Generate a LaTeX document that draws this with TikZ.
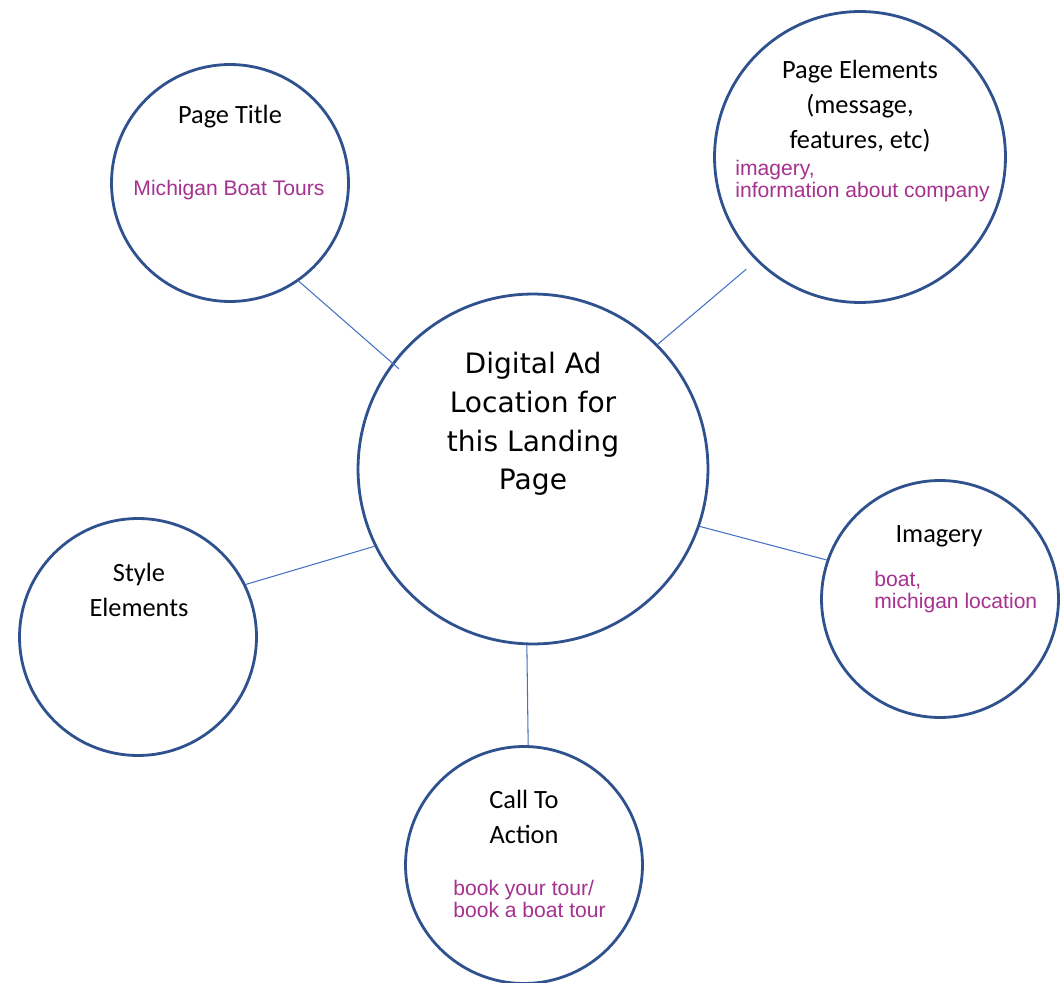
\documentclass[tikz,border=0pt]{standalone}
\usepackage{fontspec}
\setmainfont{Carlito}
\newfontfamily\adfont{DejaVu Sans}
\newfontfamily\notefont{Liberation Sans}
\definecolor{ringblue}{RGB}{47,82,143}
\definecolor{lineblue}{RGB}{68,114,196}
\definecolor{notepink}{RGB}{166,49,143}

\begin{document}
\begin{tikzpicture}[x=0.02cm,y=-0.02cm]
    \useasboundingbox (0,0) rectangle (1062,983);
    \begin{scope}[every node/.style={circle,draw=ringblue,line width=1.6pt,fill=white,minimum size=4.74cm}]
      \node[minimum size=7.0cm] (ad) at (533,469) {};
      \node (title) at (230,183) {};
      \node[minimum size=5.82cm] (elements) at (860,157) {};
      \node (imagery) at (940,599) {};
      \node (style) at (138,637) {};
      \node (action) at (524,865) {};
    \end{scope}

    \begin{scope}[every edge/.style={draw=lineblue,line width=0.6pt}]
      \path (title.-55) edge[shorten >=-0.18cm] (ad.143);
      \path (elements.225) edge[shorten <=0.26cm] (ad.45);
      \path (imagery.161) edge (ad.-19);
      \path (style.26) edge (ad.-154);
      \path (action.88) edge (ad.-92);
    \end{scope}

    \begin{scope}[every node/.style={align=center,font=\fontsize{15}{20}\selectfont}]
      \node[font=\adfont\fontsize{16}{22}\selectfont] (ad-text) at (533,424) {Digital Ad\\Location for\\this Landing\\Page};
      \node (title-text) at (230,117) {Page Title};
      \node (elements-text) at (860,106) {Page Elements\\(message,\\features, etc)};
      \node (imagery-text) at (939,536) {Imagery};
      \node (style-text) at (139,590) {Style\\Elements};
      \node (action-text) at (524,817) {Call To\\Action};
    \end{scope}

    \begin{scope}[every node/.style={align=left,inner sep=0pt,text=notepink,font=\notefont\fontsize{12}{13}\selectfont}]
      \node (title-note) at (229,190) {Michigan Boat Tours};
      \node[anchor=west] (elements-note) at (735,181) {imagery,\\information about company};
      \node[anchor=west] (imagery-note) at (874,592) {boat,\\michigan location};
      \node[anchor=west] (action-note) at (453,899) {book your tour/\\book a boat tour};
    \end{scope}
  \end{tikzpicture}
\end{document}
